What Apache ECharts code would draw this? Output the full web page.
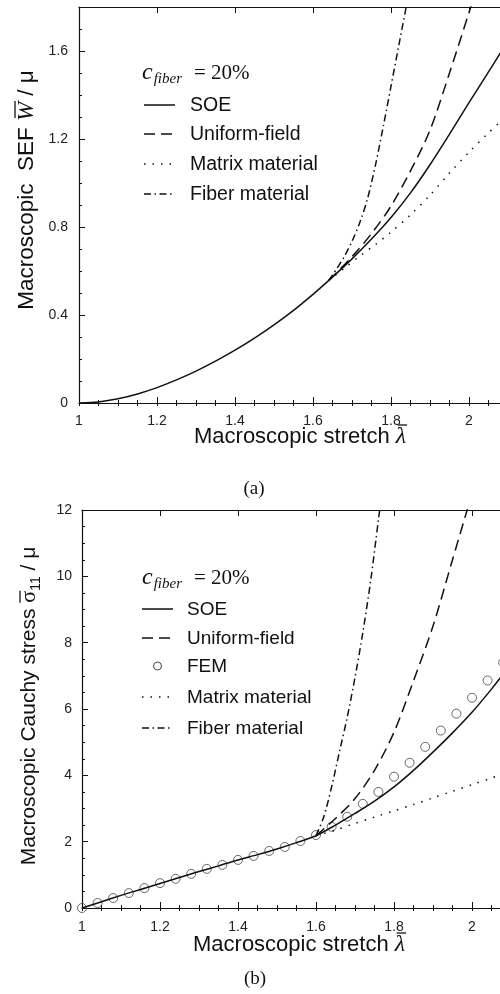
<!DOCTYPE html>
<html>
<head>
<meta charset="utf-8">
<script src="https://cdn.jsdelivr.net/npm/echarts@6.0.0/dist/echarts.min.js"></script>
<style>
html, body { margin: 0; padding: 0; background: #fff; }
#chart { width: 500px; height: 994px; }
</style>
</head>
<body>
<div id="chart"></div>
<script>
// ---- (a) SEF W/μ vs stretch ----
// shared path up to the branch point
const aBaseX = [1.00, 1.05, 1.10, 1.15, 1.20, 1.25, 1.30, 1.35, 1.40, 1.45, 1.50, 1.55, 1.60, 1.64]
const aBaseW = [0, 0.005, 0.019, 0.041, 0.070, 0.105, 0.145, 0.190, 0.240, 0.295, 0.355, 0.421, 0.494, 0.556]
const aSoeX = [1.64, 1.70, 1.75, 1.80, 1.85, 1.90, 1.95, 2.00, 2.05, 2.08]
const aSoeW = [0.556, 0.655, 0.745, 0.843, 0.955, 1.083, 1.222, 1.365, 1.505, 1.59]
const aUniX = [1.64, 1.70, 1.75, 1.80, 1.85, 1.90, 1.95, 2.00, 2.03]
const aUniW = [0.556, 0.665, 0.77, 0.895, 1.055, 1.24, 1.50, 1.775, 1.945]
const aMatX = [1.64, 1.68, 1.72, 1.76, 1.80, 1.85, 1.90, 1.95, 2.00, 2.05, 2.08]
const aMatW = [0.556, 0.612, 0.668, 0.72, 0.777, 0.855, 0.945, 1.045, 1.14, 1.228, 1.278]
const aFibX = [1.64, 1.66, 1.68, 1.70, 1.72, 1.74, 1.76, 1.78, 1.80, 1.82, 1.84, 1.86]
const aFibW = [0.556, 0.608, 0.665, 0.735, 0.82, 0.93, 1.08, 1.255, 1.44, 1.625, 1.81, 1.995]

// ---- (b) Cauchy stress σ11/μ vs stretch ----
const bBaseX = [1.00, 1.05, 1.10, 1.15, 1.20, 1.25, 1.30, 1.35, 1.40, 1.45, 1.50, 1.55, 1.60]
const bBaseS = [0, 0.19, 0.38, 0.56, 0.74, 0.92, 1.10, 1.27, 1.45, 1.61, 1.78, 1.97, 2.18]
const bSoeX = [1.60, 1.65, 1.70, 1.75, 1.80, 1.85, 1.90, 1.95, 2.00, 2.05, 2.08]
const bSoeS = [2.18, 2.5, 2.85, 3.22, 3.65, 4.15, 4.7, 5.28, 5.9, 6.6, 7.05]
const bUniX = [1.60, 1.65, 1.70, 1.75, 1.80, 1.85, 1.90, 1.95, 2.00]
const bUniS = [2.18, 2.7, 3.3, 4.15, 5.3, 6.85, 8.5, 10.5, 12.5]
const bMatX = [1.60, 1.65, 1.70, 1.75, 1.80, 1.85, 1.90, 1.95, 2.00, 2.05, 2.08]
const bMatS = [2.18, 2.35, 2.55, 2.74, 2.93, 3.12, 3.32, 3.52, 3.72, 3.92, 4.04]
const bFibX = [1.60, 1.62, 1.64, 1.66, 1.68, 1.70, 1.72, 1.74, 1.76, 1.78]
const bFibS = [2.18, 2.75, 3.65, 4.7, 5.75, 6.95, 8.3, 9.85, 11.7, 13.5]
const femX = [1.00, 1.04, 1.08, 1.12, 1.16, 1.20, 1.24, 1.28, 1.32, 1.36, 1.40, 1.44, 1.48, 1.52,
  1.56, 1.60, 1.64, 1.68, 1.72, 1.76, 1.80, 1.84, 1.88, 1.92, 1.96, 2.00, 2.04, 2.08]
const femS = [0, 0.15, 0.30, 0.45, 0.60, 0.75, 0.88, 1.03, 1.18, 1.30, 1.45, 1.57, 1.72, 1.84,
  2.02, 2.20, 2.45, 2.75, 3.14, 3.50, 3.96, 4.38, 4.86, 5.35, 5.86, 6.34, 6.86, 7.40]

const INK = '#111'
const SANS = '"Liberation Sans", Arial, sans-serif'
const SERIF = '"Liberation Serif", "Times New Roman", serif'
const DASH = [11, 6]
const DOT = [1.5, 7]
const DASHDOT = [7, 3.5, 1.5, 3.5]

const zip = (xs, ys) => xs.map((x, i) => [x, ys[i]])
const join = (bx, by, ex, ey) => zip(bx.concat(ex.slice(1)), by.concat(ey.slice(1)))

// label only on multiples of step
function stepFmt(step, digits) {
  return v => {
    const k = v / step
    return Math.abs(k - Math.round(k)) < 1e-6 ? String(+v.toFixed(digits)) : ''
  }
}

const tickLabel = { fontFamily: SANS, fontSize: 14, color: '#222' }

function xAxes(grid, margin) {
  const base = {
    type: 'value', gridIndex: grid, min: 1, max: 2.08,
    splitLine: { show: false },
    axisLine: { onZero: false, lineStyle: { color: INK, width: 1.2 } }
  }
  const major = { inside: true, length: 6, lineStyle: { color: INK, width: 1 } }
  const minor = { inside: true, length: 3, lineStyle: { color: INK, width: 1 } }
  return [
    { ...base, position: 'bottom', interval: 0.2, axisTick: major,
      axisLabel: { ...tickLabel, margin, formatter: stepFmt(0.2, 1) } },
    { ...base, position: 'bottom', interval: 0.05, axisLine: { show: false }, axisTick: minor, axisLabel: { show: false } },
    { ...base, position: 'top', interval: 0.2, axisTick: major, axisLabel: { show: false } },
    { ...base, position: 'top', interval: 0.05, axisLine: { show: false }, axisTick: minor, axisLabel: { show: false } }
  ]
}

function yAxes(grid, max, step, minorStep, digits, margin) {
  const base = {
    type: 'value', gridIndex: grid, min: 0, max, position: 'left',
    splitLine: { show: false },
    axisLine: { onZero: false, lineStyle: { color: INK, width: 1.2 } }
  }
  return [
    { ...base, interval: step, axisTick: { inside: true, length: 6, lineStyle: { color: INK } },
      axisLabel: { ...tickLabel, margin, formatter: stepFmt(step, digits) } },
    { ...base, interval: minorStep, axisLine: { show: false },
      axisTick: { inside: true, length: 3, lineStyle: { color: INK } }, axisLabel: { show: false } }
  ]
}

function curve(data, xi, yi, type) {
  return {
    type: 'line', xAxisIndex: xi, yAxisIndex: yi, data,
    symbol: 'none', smooth: 0.3, silent: true,
    lineStyle: { color: INK, width: 1.5, type }
  }
}

// ---- 文本：逐段测宽，拼接上划线/下标 ----
const meas = document.createElement('canvas').getContext('2d')
function textWidth(font, s) { meas.font = font; return meas.measureText(s).width }

function richText(parts, x, y, opts = {}) {
  let total = 0
  parts.forEach(p => { p.w = textWidth(p.font, p.t); total += p.w + (p.gap || 0) })
  let cx = opts.anchor === 'start' ? 0 : -total / 2
  const kids = []
  parts.forEach(p => {
    cx += p.gap || 0
    kids.push({
      type: 'text', x: cx, y: p.dy || 0,
      style: { text: p.t, font: p.font, fill: INK, align: 'left', verticalAlign: 'middle',
        textAlign: 'left', textVerticalAlign: 'middle' }
    })
    if (p.bar != null) {
      kids.push({ type: 'line', shape: { x1: cx + (p.bx || 0), y1: p.bar, x2: cx + p.w + (p.bx2 || 0), y2: p.bar },
        style: { stroke: INK, lineWidth: 1.3 } })
    }
    cx += p.w
  })
  return { type: 'group', x, y, rotation: opts.rot || 0, silent: true, children: kids }
}

function plainText(t, x, y, font) {
  return { type: 'text', x, y, silent: true,
    style: { text: t, font, fill: INK, align: 'left', verticalAlign: 'middle', textAlign: 'left', textVerticalAlign: 'middle' } }
}

function legend(x0, x1, tx, rows, font) {
  const out = []
  rows.forEach(r => {
    if (r.circle) {
      out.push({ type: 'circle', silent: true, shape: { cx: (x0 + x1) / 2, cy: r.y, r: 4 },
        style: { fill: 'none', stroke: '#444', lineWidth: 1 } })
    } else {
      out.push({ type: 'line', silent: true, shape: { x1: x0, y1: r.y, x2: x1, y2: r.y },
        style: { stroke: INK, lineWidth: 1.5, lineDash: r.dash || null } })
    }
    out.push(plainText(r.label, tx, r.y + 0.5, font))
  })
  return out
}

function cfiber(x, y) {
  return richText([
    { t: 'c', font: 'italic 24px ' + SERIF },
    { t: 'fiber', font: 'italic 15px ' + SERIF, dy: 6, gap: 1 },
    { t: '= 20%', font: '21px ' + SERIF, gap: 12 }
  ], x, y, { anchor: 'start' })
}

const graphics = [
  // (a)
  cfiber(142, 73),
  ...legend(144, 175, 190, [
    { y: 105, label: 'SOE' },
    { y: 134, label: 'Uniform-field', dash: DASH },
    { y: 164, label: 'Matrix material', dash: DOT },
    { y: 194, label: 'Fiber material', dash: DASHDOT }
  ], '19.5px ' + SANS),
  richText([
    { t: 'Macroscopic stretch ', font: '22px ' + SANS },
    { t: 'λ', font: 'italic 24px ' + SERIF, bar: -12, bx: 2, bx2: 1 }
  ], 194, 437, { anchor: 'start' }),
  richText([
    { t: 'Macroscopic  SEF ', font: '22.5px ' + SANS },
    { t: 'W', font: 'italic 23px ' + SERIF, bar: -12, bx: 3, bx2: 1 },
    { t: ' / μ', font: '22.5px ' + SANS }
  ], 27, 190, { rot: Math.PI / 2 }),
  richText([{ t: '(a)', font: '19px ' + SERIF }], 254, 489),

  // (b)
  cfiber(142, 578),
  ...legend(142, 173, 187, [
    { y: 609, label: 'SOE' },
    { y: 638, label: 'Uniform-field', dash: DASH },
    { y: 666, label: 'FEM', circle: true },
    { y: 697, label: 'Matrix material', dash: DOT },
    { y: 728, label: 'Fiber material', dash: DASHDOT }
  ], '19px ' + SANS),
  richText([
    { t: 'Macroscopic stretch ', font: '22px ' + SANS },
    { t: 'λ', font: 'italic 24px ' + SERIF, bar: -12, bx: 2, bx2: 1 }
  ], 193, 945, { anchor: 'start' }),
  richText([
    { t: 'Macroscopic Cauchy stress ', font: '21px ' + SANS },
    { t: 'σ', font: '22px ' + SERIF, bar: -9, bx: 0, bx2: 0 },
    { t: '11', font: '14px ' + SANS, dy: 7 },
    { t: ' / μ', font: '21px ' + SANS }
  ], 29, 706, { rot: Math.PI / 2 }),
  richText([{ t: '(b)', font: '19px ' + SERIF }], 255, 979)
]

const chart = echarts.init(document.getElementById('chart'), null, { renderer: 'canvas' })
chart.setOption({
  animation: false,
  backgroundColor: '#fff',
  grid: [
    { left: 79, top: 7, width: 421.2, height: 396, outerBoundsMode: 'none', containLabel: false },
    { left: 82, top: 510, width: 421.2, height: 398, outerBoundsMode: 'none', containLabel: false }
  ],
  xAxis: [...xAxes(0, 11), ...xAxes(1, 12)],
  yAxis: [...yAxes(0, 1.8, 0.4, 0.1, 1, 11), ...yAxes(1, 12, 2, 0.5, 0, 10)],
  series: [
    curve(join(aBaseX, aBaseW, aSoeX, aSoeW), 0, 0, 'solid'),
    curve(zip(aUniX, aUniW), 0, 0, DASH),
    curve(zip(aMatX, aMatW), 0, 0, DOT),
    curve(zip(aFibX, aFibW), 0, 0, DASHDOT),

    curve(join(bBaseX, bBaseS, bSoeX, bSoeS), 4, 2, 'solid'),
    curve(zip(bUniX, bUniS), 4, 2, DASH),
    curve(zip(bMatX, bMatS), 4, 2, DOT),
    curve(zip(bFibX, bFibS), 4, 2, DASHDOT),
    {
      type: 'scatter', xAxisIndex: 4, yAxisIndex: 2, silent: true,
      data: zip(femX, femS), symbol: 'circle', symbolSize: 9,
      itemStyle: { color: 'rgba(0,0,0,0)', borderColor: '#444', borderWidth: 1 }
    }
  ],
  graphic: graphics
})
</script>
</body>
</html>
